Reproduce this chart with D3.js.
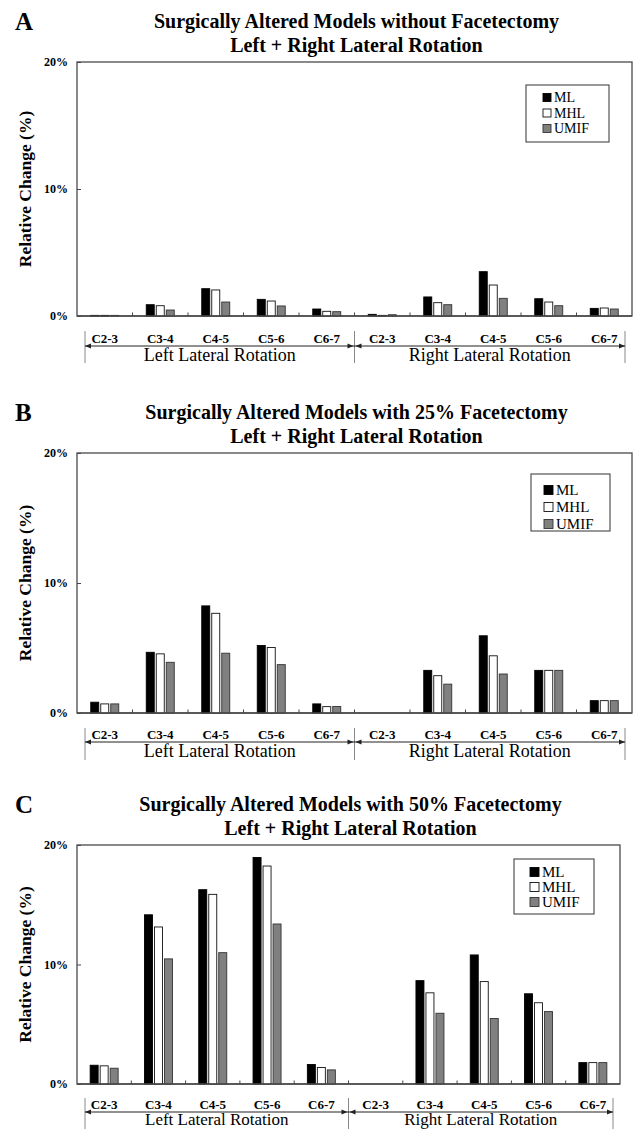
<!DOCTYPE html>
<html><head><meta charset="utf-8">
<script src="https://cdn.jsdelivr.net/npm/d3@7"></script>
<style>
body{margin:0;background:#fff}
svg{display:block}
text{font-family:"Liberation Serif","Times New Roman",Times,serif;fill:#000}
</style>
</head><body>
<svg id="chart" width="637" height="1129"></svg>
<script>
// ---------- data ----------
const categories = ["C2-3","C3-4","C4-5","C5-6","C6-7"];
const groups = ["Left Lateral Rotation","Right Lateral Rotation"];
const series = ["ML","MHL","UMIF"];
const yTicks = [0,10,20];
const titleLine2 = "Left + Right Lateral Rotation";
const titles = [
  "Surgically Altered Models without Facetectomy",
  "Surgically Altered Models with 25% Facetectomy",
  "Surgically Altered Models with 50% Facetectomy"
];
const letters = ["A","B","C"];
// values: left rotation C2-3..C6-7, then right rotation C2-3..C6-7
const A_ML   = [0.05,0.89,2.15,1.31,0.55, 0.13,1.50,3.49,1.36,0.60];
const A_MHL  = [0.05,0.81,2.05,1.18,0.37, 0.05,1.05,2.44,1.10,0.63];
const A_UMIF = [0.05,0.47,1.10,0.79,0.34, 0.10,0.89,1.39,0.81,0.55];
const B_ML   = [0.83,4.67,8.24,5.19,0.70, 0,3.28,5.94,3.28,0.95];
const B_MHL  = [0.70,4.55,7.67,5.04,0.49, 0,2.87,4.40,3.28,0.95];
const B_UMIF = [0.70,3.90,4.60,3.72,0.50, 0,2.22,3.00,3.28,0.95];
const C_ML   = [1.57,14.16,16.26,18.95,1.63, 0,8.65,10.80,7.55,1.79];
const C_MHL  = [1.52,13.14,15.87,18.24,1.38, 0,7.63,8.57,6.80,1.79];
const C_UMIF = [1.32,10.47,10.99,13.39,1.18, 0,5.92,5.48,6.06,1.79];

// ---------- styles ----------
const fills = {ML:"#000000", MHL:"#ffffff", UMIF:"#808080"};
const strokes = {ML:"#000000", MHL:"#111111", UMIF:"#333333"};

const panels = [
  {values:[A_ML,A_MHL,A_UMIF], top:62, bottom:316, left:77, right:632,
   lab:{pad:18, arrow:30, vt:15, vb:47, text:45, fs:18},
   legend:{x:526,y:85,w:83,h:57,sq:8,fs:14,row:15.5,tx:554,ty0:97.5}},
  {values:[B_ML,B_MHL,B_UMIF], top:453, bottom:713, left:77, right:632,
   lab:{pad:17, arrow:29, vt:15, vb:47, text:44, fs:18},
   legend:{x:531,y:474,w:79,h:57,sq:9,fs:15,row:17,tx:556,ty0:490}},
  {values:[C_ML,C_MHL,C_UMIF], top:845, bottom:1084, left:77, right:620,
   lab:{pad:16, arrow:28, vt:14, vb:45, text:41, fs:17},
   legend:{x:514,y:859,w:80,h:55,sq:9,fs:15,row:15,tx:542,ty0:872}}
];

const svg = d3.select("#chart");

function arrow(g, x, y, dir){
  g.append("path")
    .attr("d", `M${x},${y} L${x-dir*6},${y-2.5} L${x-dir*6},${y+2.5} Z`)
    .attr("fill","#222");
}

panels.forEach((p, pi) => {
  const g = svg.append("g");
  const keys = d3.range(groups.length*categories.length);
  const x = d3.scaleBand().domain(keys).range([p.left, p.right]).padding(0);
  const y = d3.scaleLinear().domain([0,20]).range([p.bottom, p.top]);
  const cx = (p.left + p.right)/2;

  g.append("text").attr("x",15).attr("y",p.top-32)
    .attr("font-size",25).attr("font-weight","bold").text(letters[pi]);
  g.append("text").attr("x",cx+2).attr("y",p.top-34).attr("text-anchor","middle")
    .attr("font-size",20).attr("font-weight","bold").text(titles[pi]);
  g.append("text").attr("x",cx+2).attr("y",p.top-10).attr("text-anchor","middle")
    .attr("font-size",20).attr("font-weight","bold").text(titleLine2);

  g.append("rect").attr("x",p.left).attr("y",p.top)
    .attr("width",p.right-p.left).attr("height",p.bottom-p.top)
    .attr("fill","none").attr("stroke","#4a4a4a").attr("stroke-width",1.3);

  const ya = g.append("g").attr("transform",`translate(${p.left},0)`)
    .call(d3.axisLeft(y).tickValues(yTicks).tickSize(-4).tickPadding(9).tickFormat(d=>d+"%"));
  ya.select(".domain").remove();
  ya.selectAll(".tick line").attr("stroke","#444");
  ya.selectAll(".tick text").attr("font-size",12).attr("font-weight","bold")
    .style("font-family",'"Liberation Serif",serif');

  g.append("text")
    .attr("transform",`translate(25,${(p.top+p.bottom)/2}) rotate(-90)`)
    .attr("text-anchor","middle").attr("dy","0.35em")
    .attr("font-size",17.5).attr("font-weight","bold").text("Relative Change (%)");

  g.selectAll(".btick").data(keys.slice(1)).enter().append("line")
    .attr("x1",d=>x(d)).attr("x2",d=>x(d))
    .attr("y1",p.bottom).attr("y2",p.bottom-3.5)
    .attr("stroke","#444").attr("stroke-width",1);

  const inner = d3.scaleBand().domain(series).range([-14,14]).paddingInner(0.2);
  series.forEach((s, si) => {
    g.selectAll(".bar-"+s).data(p.values[si]).enter().append("rect")
      .attr("x",(d,i)=>x(i)+x.bandwidth()/2+inner(s))
      .attr("width",inner.bandwidth())
      .attr("y",d=>y(d))
      .attr("height",d=>y(0)-y(d))
      .attr("fill",fills[s]).attr("stroke",strokes[s]).attr("stroke-width",0.9);
  });

  const xa = g.append("g").attr("transform",`translate(0,${p.bottom})`)
    .call(d3.axisBottom(x).tickSize(0).tickPadding(p.lab.pad).tickFormat(i=>categories[i%categories.length]));
  xa.select(".domain").remove();
  xa.selectAll(".tick text").attr("font-size",13).attr("font-weight","bold")
    .style("font-family",'"Liberation Serif",serif');
  g.append("line").attr("x1",p.left).attr("x2",p.right).attr("y1",p.bottom).attr("y2",p.bottom)
    .attr("stroke","#4a4a4a").attr("stroke-width",1.3);

  const bl = p.left+8, br = p.right-7, bm = cx;
  const ay = p.bottom+p.lab.arrow;
  [bl,bm,br].forEach(vx=>{
    g.append("line").attr("x1",vx).attr("x2",vx).attr("y1",p.bottom+p.lab.vt).attr("y2",p.bottom+p.lab.vb)
      .attr("stroke","#888").attr("stroke-width",1);
  });
  g.append("line").attr("x1",bl).attr("x2",br).attr("y1",ay).attr("y2",ay)
    .attr("stroke","#222").attr("stroke-width",1);
  arrow(g,bl,ay,-1); arrow(g,bm-1,ay,1); arrow(g,bm+1,ay,-1); arrow(g,br,ay,1);
  groups.forEach((gr,gi)=>{
    const gx = gi===0 ? (bl+bm)/2 : (bm+br)/2;
    g.append("text").attr("x",gx).attr("y",p.bottom+p.lab.text).attr("text-anchor","middle")
      .attr("font-size",p.lab.fs).text(gr);
  });

  const L = p.legend;
  const lg = g.append("g");
  lg.append("rect").attr("x",L.x).attr("y",L.y).attr("width",L.w).attr("height",L.h)
    .attr("fill","#fff").attr("stroke","#444").attr("stroke-width",1.1);
  series.forEach((s,si)=>{
    const ty = L.ty0 + si*L.row;
    lg.append("rect").attr("x",L.tx-L.sq-3).attr("y",ty-L.sq/2).attr("width",L.sq).attr("height",L.sq)
      .attr("fill",fills[s]).attr("stroke",strokes[s]).attr("stroke-width",0.9);
    lg.append("text").attr("x",L.tx).attr("y",ty).attr("dy","0.35em")
      .attr("font-size",L.fs).text(s);
  });
});
</script>
</body></html>
